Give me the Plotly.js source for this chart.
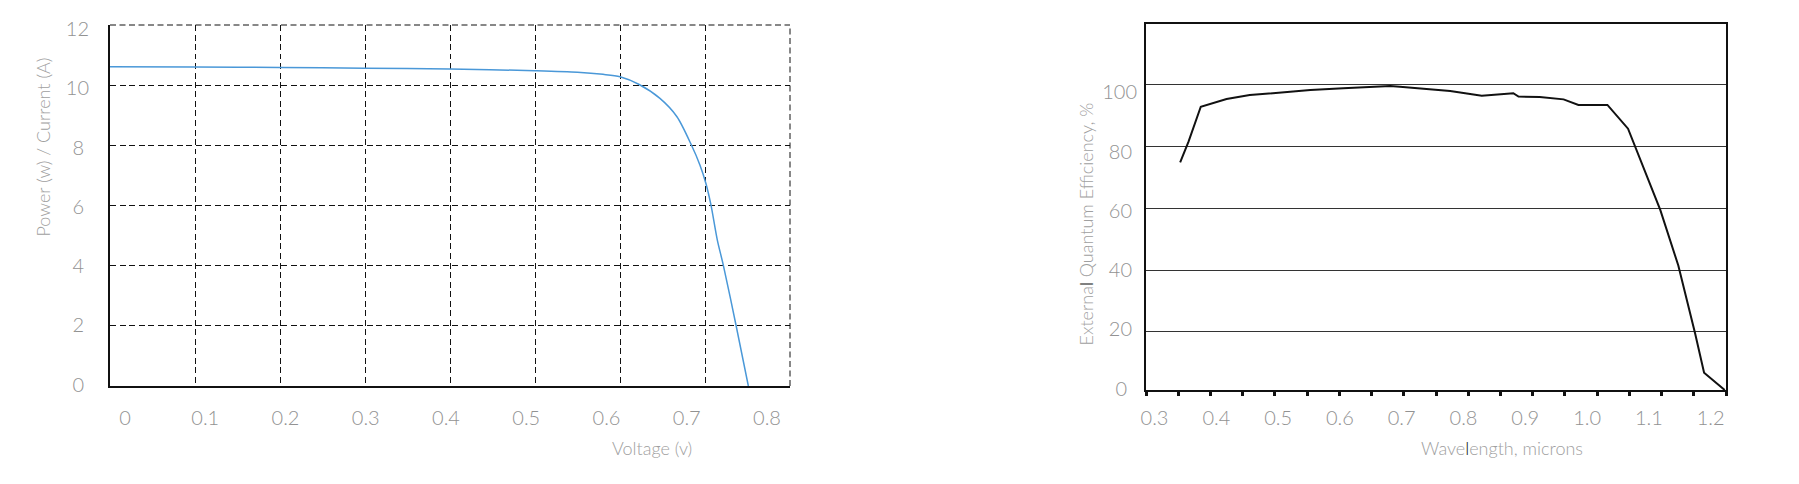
<!DOCTYPE html>
<html>
<head>
<meta charset="utf-8">
<script src="https://cdn.plot.ly/plotly-3.0.1.min.js"></script>
<style>html,body{margin:0;padding:0;background:#fff;}#chart{width:1799px;height:484px;}</style>
</head>
<body>
<div id="chart"></div>
<script>
// ---- Left chart: I-V curve ----
const voltage = [0, 0.1, 0.2, 0.3, 0.4, 0.5, 0.55, 0.58, 0.6, 0.622, 0.647, 0.667, 0.684, 0.694, 0.701, 0.707, 0.7145, 0.7216, 0.7365, 0.751];
const current = [10.61, 10.60, 10.59, 10.56, 10.54, 10.48, 10.43, 10.36, 10.28, 10.03, 9.56, 8.95, 8.01, 7.35, 6.74, 6.02, 4.85, 4.01, 2.02, 0.0];
const voltTicks = [0, 0.1, 0.2, 0.3, 0.4, 0.5, 0.6, 0.7, 0.8];
const voltTickText = ['0', '0.1', '0.2', '0.3', '0.4', '0.5', '0.6', '0.7', '0.8'];
const currTicks = [0, 2, 4, 6, 8, 10, 12];
const currTickText = ['0', '2', '4', '6', '8', '10', '12'];

// ---- Right chart: external quantum efficiency ----
const wavelength = [0.353, 0.366, 0.385, 0.425, 0.461, 0.513, 0.555, 0.606, 0.658, 0.679, 0.694, 0.772, 0.821, 0.870, 0.878, 0.911, 0.948, 0.971, 1.016, 1.048, 1.098, 1.126, 1.152, 1.166, 1.198];
const eqe = [74.9, 81.6, 92.9, 95.4, 96.7, 97.7, 98.3, 98.9, 99.5, 99.6, 99.4, 98.0, 96.5, 97.3, 96.2, 96.1, 95.3, 93.5, 93.5, 85.8, 59.5, 41.5, 19.6, 6.8, 1.2];
const wlTicks = [0.3, 0.4, 0.5, 0.6, 0.7, 0.8, 0.9, 1.0, 1.1, 1.2];
const wlTickText = ['0.3', '0.4', '0.5', '0.6', '0.7', '0.8', '0.9', '1.0', '1.1', '1.2'];
const eqeTicks = [0, 20, 40, 60, 80, 100];
const eqeTickText = ['0', '20', '40', '60', '80', '100'];

// pad labels so they look centre-aligned like the reference
function padCenter(arr) {
  const maxLen = Math.max(...arr.map(s => s.length));
  return arr.map(s => s + '\u2005'.repeat(maxLen - s.length));
}

const FONT = '"Lato Light", Lato, "Open Sans", sans-serif';
const tickFont = {family: FONT, size: 20, color: '#929292', weight: 300};
const titleFont = {family: FONT, size: 18, color: '#a0a0a0', weight: 300};

const W = 1799, H = 484;
const px = v => v / W;
const py = v => 1 - v / H;

const traces = [
  {x: voltage, y: current, xaxis: 'x', yaxis: 'y', type: 'scatter', mode: 'lines',
   line: {color: '#4a98d8', width: 1.5, shape: 'spline', smoothing: 0.8}, hoverinfo: 'x+y', showlegend: false},
  {x: [], y: [], xaxis: 'x2', yaxis: 'y2', type: 'scatter', mode: 'lines', showlegend: false, hoverinfo: 'skip'},
  {x: wavelength, y: eqe, xaxis: 'x3', yaxis: 'y3', type: 'scatter', mode: 'lines',
   line: {color: '#111', width: 2}, hoverinfo: 'x+y', showlegend: false},
  {x: [], y: [], xaxis: 'x4', yaxis: 'y4', type: 'scatter', mode: 'lines', showlegend: false, hoverinfo: 'skip'}
];

const dashGrid = '6px,3.5px';
const gridCol = '#111';
const layout = {
  width: W, height: H,
  margin: {l: 0, r: 0, t: 0, b: 0},
  paper_bgcolor: '#fff', plot_bgcolor: 'rgba(0,0,0,0)',
  showlegend: false,
  // left chart - grid axes
  xaxis: {domain: [px(110), px(790)], anchor: 'y', range: [0, 0.8], dtick: 0.1, tick0: 0,
          showgrid: true, gridcolor: gridCol, gridwidth: 1, griddash: dashGrid,
          zeroline: false, showline: true, linecolor: '#111', linewidth: 2,
          showticklabels: false, ticks: ''},
  yaxis: {domain: [py(386), py(25)], anchor: 'x', range: [0, 12], dtick: 2, tick0: 0,
          showgrid: true, gridcolor: gridCol, gridwidth: 1, griddash: dashGrid,
          zeroline: false, showline: true, linecolor: '#111', linewidth: 2,
          showticklabels: false, ticks: ''},
  // left chart - label axes
  xaxis2: {overlaying: 'x', anchor: 'y', side: 'bottom', range: [-0.0187, 0.8287],
           tickmode: 'array', tickvals: voltTicks, ticktext: voltTickText,
           showgrid: false, zeroline: false, showline: false, ticks: '',
           tickfont: tickFont, ticklabelstandoff: 18},
  yaxis2: {overlaying: 'y', anchor: 'x', side: 'left', range: [-0.044, 12.142],
           tickmode: 'array', tickvals: currTicks, ticktext: padCenter(currTickText),
           showgrid: false, zeroline: false, showline: false, ticks: '',
           tickfont: tickFont, ticklabelstandoff: 20},
  // right chart - grid axes
  xaxis3: {domain: [px(1146), px(1726)], anchor: 'y3', range: [0.3, 1.2], dtick: 0.05, tick0: 0.3,
           showgrid: false, zeroline: false, showline: true, mirror: true, linecolor: '#111', linewidth: 2,
           ticks: 'outside', ticklen: 4, tickwidth: 3, tickcolor: '#111', showticklabels: false},
  yaxis3: {domain: [py(390), py(24)], anchor: 'x3', range: [1.2, 119.7], dtick: 20, tick0: 0,
           showgrid: true, gridcolor: '#333', gridwidth: 1,
           zeroline: false, showline: true, mirror: true, linecolor: '#111', linewidth: 2,
           ticks: '', showticklabels: false},
  // right chart - label axes
  xaxis4: {overlaying: 'x3', anchor: 'y3', side: 'bottom', range: [0.2862, 1.2248],
           tickmode: 'array', tickvals: wlTicks, ticktext: wlTickText,
           showgrid: false, zeroline: false, showline: false, ticks: '',
           tickfont: tickFont, ticklabelstandoff: 14},
  yaxis4: {overlaying: 'y3', anchor: 'x3', side: 'left', range: [-0.44, 123.1],
           tickmode: 'array', tickvals: eqeTicks, ticktext: padCenter(eqeTickText),
           showgrid: false, zeroline: false, showline: false, ticks: '',
           tickfont: tickFont, ticklabelstandoff: 8},
  // dashed outer border (top and right) of the left chart, like its grid
  shapes: [
    {type: 'line', xref: 'x domain', yref: 'y domain', x0: 0, x1: 1, y0: 1, y1: 1,
     line: {color: gridCol, width: 1, dash: dashGrid}},
    {type: 'line', xref: 'x domain', yref: 'y domain', x0: 1, x1: 1, y0: 0, y1: 1,
     line: {color: gridCol, width: 1, dash: dashGrid}}
  ],
  annotations: [
    {text: 'Power (w) / Current (A)', xref: 'paper', yref: 'paper', x: px(42.5), y: py(147),
     xanchor: 'center', yanchor: 'middle', textangle: -90, showarrow: false, font: titleFont},
    {text: 'Voltage (v)', xref: 'paper', yref: 'paper', x: px(652), y: py(447.5),
     xanchor: 'center', yanchor: 'middle', showarrow: false, font: titleFont},
    {text: 'Externa<span style="fill:#111">l</span> Quantum Efficiency, %', xref: 'paper', yref: 'paper',
     x: px(1085), y: py(224.5), xanchor: 'center', yanchor: 'middle', textangle: -90, showarrow: false, font: titleFont},
    {text: 'Wave<span style="fill:#111">l</span>ength, microns', xref: 'paper', yref: 'paper', x: px(1502), y: py(447.5),
     xanchor: 'center', yanchor: 'middle', showarrow: false, font: titleFont}
  ]
};

Plotly.newPlot('chart', traces, layout, {displayModeBar: false, staticPlot: true});
</script>
</body>
</html>
